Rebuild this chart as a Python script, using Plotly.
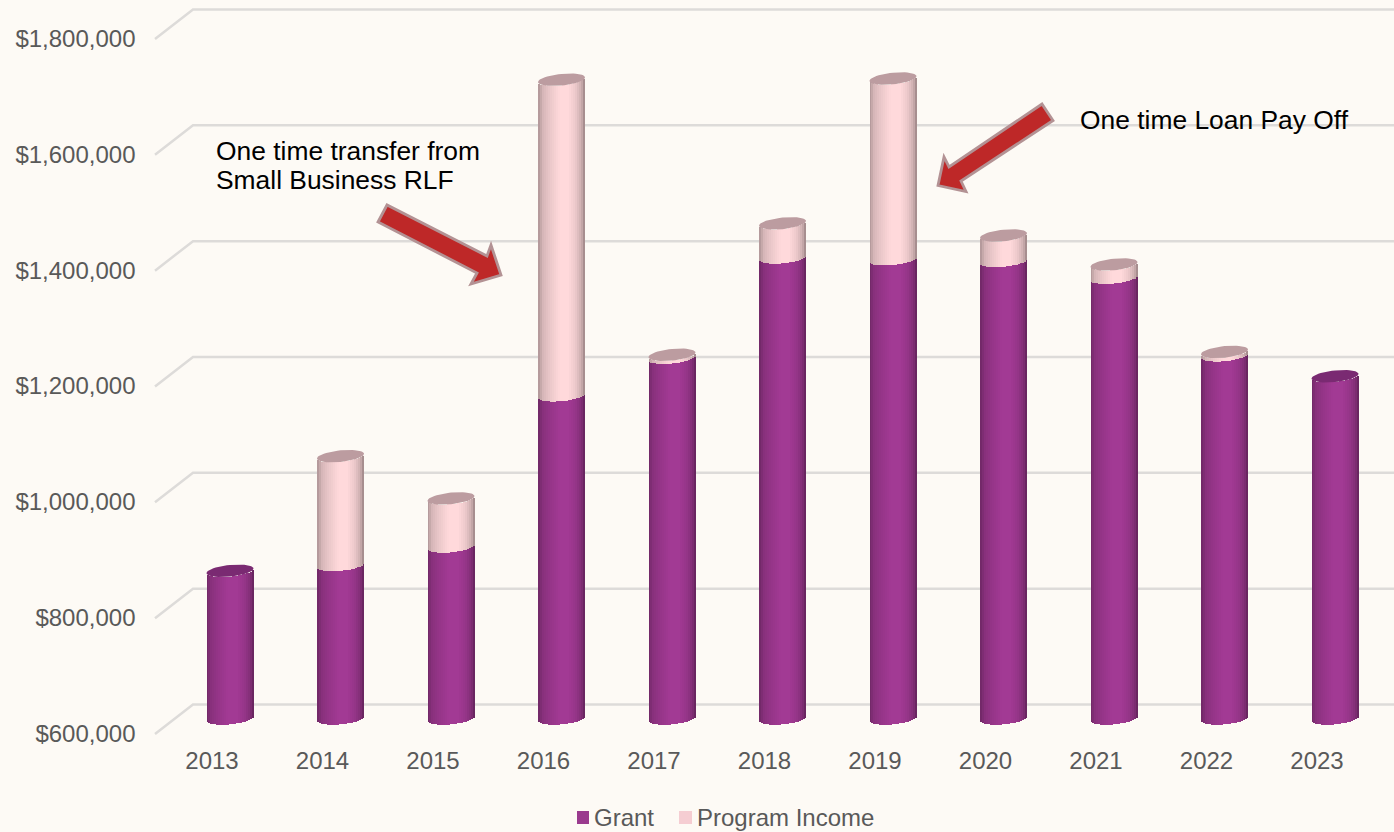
import numpy as np
import plotly.graph_objects as go

# ---- data ----
years = [2013, 2014, 2015, 2016, 2017, 2018, 2019, 2020, 2021, 2022, 2023]
grant = [855000, 865000, 897000, 1158000, 1223000, 1396000, 1393000, 1390000, 1361000, 1227000, 1191000]
program_income = [0, 188000, 83000, 545000, 5000, 59000, 312000, 44000, 23000, 6000, 0]
y_ticks = [600000, 800000, 1000000, 1200000, 1400000, 1600000, 1800000]

# ---- page geometry (pixels) ----
W, H = 1394, 832
PX_PER_YEAR = 110.5
BAR_X0 = 230          # pixel centre of the 2013 column
LABEL_X0 = 212        # pixel centre of the 2013 tick label
PX_PER_DOLLAR = 115.83 / 200000
GRID_Y0, BAR_Y0, LABEL_Y0 = 704.5, 718.5, 733.5   # pixel row of $600,000 in each plane
BAR_PX = 47
RX_PY, TILT_PY = 5.8, 2.3    # cylinder end ellipse
N_STRIPS = 24

BG = "#FDFAF5"
GRID = "#DDDBD9"
TXT = "#595959"
PURPLE = np.array([162, 58, 148])
PINK = np.array([255, 217, 219])
PURPLE_TOP = "#7A2A72"
PINK_TOP = "#BC9CA0"


def x_range(px0):
    return [2013 - px0 / PX_PER_YEAR, 2013 + (W - px0) / PX_PER_YEAR]


def y_range(py0):
    return [600000 - (H - py0) / PX_PER_DOLLAR, 600000 + py0 / PX_PER_DOLLAR]


def shade(base, t):
    k = np.interp(t, [-1, -0.8, -0.5, -0.1, 0.3, 0.6, 0.85, 1], [0.68, 0.84, 0.92, 1.0, 1.0, 0.93, 0.8, 0.6])
    return "rgb(%d,%d,%d)" % tuple(base * k)


def lower_edge(t):
    return (RX_PY * np.sqrt(1 - t * t) - TILT_PY * t) / PX_PER_DOLLAR


def poly(points):
    s = "M" + "L".join(f"{x / W:.5f},{1 - y / H:.5f}" for x, y in points) + "Z"
    return dict(type="path", path=s, xref="paper", yref="paper", fillcolor="#BE2828",
                line=dict(color="#B39294", width=2.8), layer="above")


grant_a = np.array(grant, float)
income_a = np.array(program_income, float)
total_a = grant_a + income_a

fig = go.Figure()

# back wall grid: line along the wall plus the diagonal to the front
gx, gy = [], []
back_x = 2013 + (193 - BAR_X0) / PX_PER_YEAR
front_x = 2013 + (155 - BAR_X0) / PX_PER_YEAR
end_x = 2013 + (W + 5 - BAR_X0) / PX_PER_YEAR
for v in y_ticks:
    gx += [front_x, back_x, end_x, None]
    gy += [v - 29.5 / PX_PER_DOLLAR, v, v, None]
fig.add_trace(go.Scatter(x=gx, y=gy, mode="lines", line=dict(color=GRID, width=2.5),
                         showlegend=False, xaxis="x", yaxis="y"))

# axis holder for the tick labels
fig.add_trace(go.Scatter(x=[years[0]], y=[y_ticks[0]], mode="markers", marker=dict(opacity=0),
                         showlegend=False, xaxis="x2", yaxis="y3"))

# cylinders: vertical strips with the lower edge following the ellipse
strip_w = BAR_PX / PX_PER_YEAR / N_STRIPS
ts = (np.arange(N_STRIPS) + 0.5) / N_STRIPS * 2 - 1
for t in ts:
    off = lower_edge(t)
    fig.add_trace(go.Bar(x=years, y=grant_a - 600000, base=600000 - off, width=strip_w * 1.25,
                         offset=t * BAR_PX / 2 / PX_PER_YEAR - strip_w / 2,
                         marker=dict(color=shade(PURPLE, t), line_width=0),
                         name="Grant", showlegend=False, xaxis="x", yaxis="y2"))
for t in ts:
    off = lower_edge(t)
    fig.add_trace(go.Bar(x=years, y=income_a, base=grant_a - off, width=strip_w * 1.25,
                         offset=t * BAR_PX / 2 / PX_PER_YEAR - strip_w / 2,
                         marker=dict(color=shade(PINK, t), line_width=0),
                         name="Program Income", showlegend=False, xaxis="x", yaxis="y2"))

# top faces
theta = np.linspace(0, 2 * np.pi, 49)
for has_income, col in [(False, PURPLE_TOP), (True, PINK_TOP)]:
    ex, ey = [], []
    for yr, tot, inc in zip(years, total_a, income_a):
        if (inc > 0) != has_income:
            continue
        ct = np.cos(theta)
        ex += list(yr + ct * BAR_PX / 2 / PX_PER_YEAR) + [None]
        ey += list(tot - (RX_PY * np.sin(theta) - TILT_PY * ct) / PX_PER_DOLLAR) + [None]
    fig.add_trace(go.Scatter(x=ex, y=ey, mode="lines", fill="toself", fillcolor=col,
                             line=dict(width=0, color=col), showlegend=False,
                             xaxis="x", yaxis="y2"))

AX_OFF = dict(visible=False, fixedrange=True)
FONT = dict(family="Liberation Sans, Arial, sans-serif", size=24, color=TXT)

shapes = [
    poly([(387, 205), (378, 222), (477, 273), (471, 284), (501, 275), (491, 245), (487, 256)]),
    poly([(1042, 104), (1053, 120.5), (961, 181), (966, 191.5), (938, 185.5), (944, 157), (949, 167)]),
    dict(type="rect", xref="paper", yref="paper", x0=577 / W, x1=589 / W,
         y0=1 - 824 / H, y1=1 - 811 / H, fillcolor="#9A3A8E", line_width=0),
    dict(type="rect", xref="paper", yref="paper", x0=679 / W, x1=692 / W,
         y0=1 - 824 / H, y1=1 - 811 / H, fillcolor="#F5CDD2", line_width=0),
]


def note(text, x, y, size=26.4, color="black"):
    return dict(text=text, xref="paper", yref="paper", x=x / W, y=1 - y / H, xanchor="left",
                yanchor="middle", showarrow=False, align="left",
                font=dict(family=FONT["family"], size=size, color=color),
                borderpad=0, xshift=0)


annotations = [
    note("One time transfer from", 215, 151),
    note("Small Business RLF", 215, 180),
    note("One time Loan Pay Off", 1079, 120),
    note("Grant", 593, 817, size=24, color=TXT),
    note("Program Income", 696, 817, size=24, color=TXT),
]

fig.update_layout(
    width=W, height=H, margin=dict(l=0, r=0, t=0, b=0, pad=0, autoexpand=False),
    paper_bgcolor=BG, plot_bgcolor=BG, barmode="overlay", bargap=0, hovermode=False,
    showlegend=False, shapes=shapes, annotations=annotations,
    xaxis=dict(range=x_range(BAR_X0), domain=[0, 1], **AX_OFF),
    yaxis=dict(range=y_range(GRID_Y0), domain=[0, 1], **AX_OFF),
    yaxis2=dict(range=y_range(BAR_Y0), overlaying="y", **AX_OFF),
    xaxis2=dict(range=x_range(LABEL_X0), overlaying="x", anchor="free", position=1 - 744 / H,
                tickmode="array", tickvals=years, ticktext=[str(y) for y in years],
                showgrid=False, zeroline=False, showline=False, ticks="", tickfont=FONT,
                fixedrange=True),
    yaxis3=dict(range=y_range(LABEL_Y0), overlaying="y", anchor="free", position=135.5 / W,
                tickmode="array", tickvals=y_ticks, tickformat="$,.0f",
                showgrid=False, zeroline=False, showline=False, ticks="", tickfont=FONT,
                fixedrange=True),
)

fig.write_html("out.html", config=dict(displayModeBar=False),
               post_script="document.body.style.margin='0';document.body.style.overflow='hidden';")
